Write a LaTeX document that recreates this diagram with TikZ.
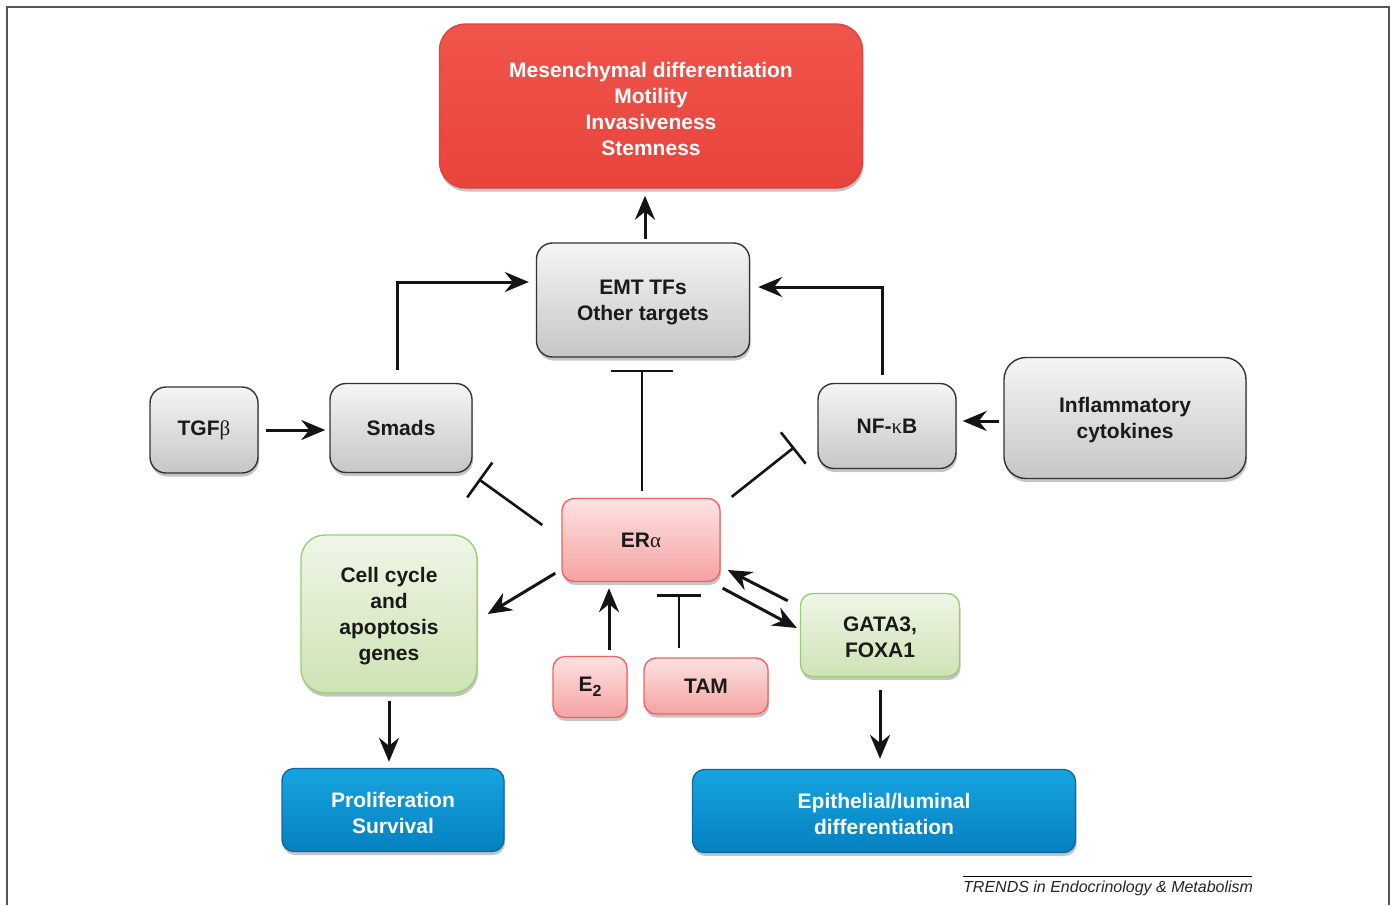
\documentclass[tikz,border=0pt]{standalone}
\usepackage{fontspec}
\setmainfont{Liberation Sans}
\newfontfamily\gkf{Liberation Serif}
\newcommand\gk[1]{{\gkf\mdseries #1}}
\newcommand\dn[2]{\raisebox{-2.5pt}[\height][\depth]{\parbox{#1}{\centering #2}}}
\usetikzlibrary{arrows.meta,shadows,calc}
\definecolor{frame}{HTML}{555555}
\definecolor{txt}{HTML}{1A1A1A}
\definecolor{grayT}{HTML}{F5F5F5}
\definecolor{grayB}{HTML}{C6C6C6}
\definecolor{grayD}{HTML}{333333}
\definecolor{redT}{HTML}{F0544B}
\definecolor{redB}{HTML}{E8443C}
\definecolor{redD}{HTML}{D8463F}
\definecolor{pinkT}{HTML}{FDE2E2}
\definecolor{pinkB}{HTML}{F5A2A2}
\definecolor{pinkD}{HTML}{EE6666}
\definecolor{greenT}{HTML}{EFF6E7}
\definecolor{greenB}{HTML}{CEE3B4}
\definecolor{greenD}{HTML}{9ACD78}
\definecolor{blueT}{HTML}{17A4E0}
\definecolor{blueB}{HTML}{0580C0}
\definecolor{blueD}{HTML}{0B6CA3}
\begin{document}
\begin{tikzpicture}[x=1pt,y=-1pt,
  box/.style={rounded corners=16pt, line width=1.4pt, align=center,
    font=\fontsize{21}{26}\selectfont\bfseries, inner sep=0pt,
    drop shadow={opacity=0.45, shadow xshift=1pt, shadow yshift=-3.5pt}},
  graybox/.style={box, draw=grayD, top color=grayT, bottom color=grayB, text=txt},
  redbox/.style={box, draw=redD, top color=redT, bottom color=redB, text=white, rounded corners=26pt},
  pinkbox/.style={box, draw=pinkD, top color=pinkT, bottom color=pinkB, text=txt, rounded corners=12pt},
  greenbox/.style={box, draw=greenD, top color=greenT, bottom color=greenB, text=txt},
  bluebox/.style={box, draw=blueD, top color=blueT, bottom color=blueB, text=white, rounded corners=12pt},
  arr/.style={line width=3pt, draw=black!92, -{Stealth[length=24pt,width=20pt,inset=8pt]}},
  inh/.style={line width=2.6pt, draw=black!92, -{Bar[width=#1,line width=2.6pt]}},
]
\useasboundingbox (0,0) rectangle (1391,905);
\fill[white] (0,0) rectangle (1391,905);
\draw[line width=1.5pt, frame] (7,905) -- (7,7) -- (1389,7) -- (1389,905);

% nodes
\node[redbox, minimum width=423pt, minimum height=164pt] (red) at (651,106)
  {\dn{400pt}{Mesenchymal differentiation\\Motility\\Invasiveness\\Stemness}};
\node[graybox, minimum width=213pt, minimum height=114pt] (emt) at (643,300)
  {\dn{200pt}{EMT TFs\\Other targets}};
\node[graybox, minimum width=108pt, minimum height=86pt] (tgfb) at (204,430)
  {TGF\gk{β}};
\node[graybox, minimum width=142pt, minimum height=89pt] (smads) at (401,428)
  {Smads};
\node[graybox, minimum width=138pt, minimum height=85pt] (nfkb) at (887,426)
  {NF-\gk{κ}B};
\node[graybox, minimum width=242pt, minimum height=121pt, rounded corners=22pt] (infl) at (1125,418)
  {\dn{230pt}{Inflammatory\\cytokines}};
\node[pinkbox, minimum width=158pt, minimum height=83pt] (era) at (641,540)
  {ER\gk{α}};
\node[greenbox, minimum width=176pt, minimum height=158pt, rounded corners=24pt] (cell) at (389,614)
  {\dn{170pt}{Cell cycle\\and\\apoptosis\\genes}};
\node[pinkbox, minimum width=74pt, minimum height=61pt] (e2) at (590,687)
  {E\raisebox{-5pt}{\fontsize{16}{16}\selectfont 2}};
\node[pinkbox, minimum width=124pt, minimum height=56pt] (tam) at (706,686)
  {TAM};
\node[greenbox, minimum width=159pt, minimum height=83pt, rounded corners=12pt] (gata) at (880,635)
  {\dn{150pt}{GATA3,\\FOXA1}};
\node[bluebox, minimum width=222pt, minimum height=83pt] (prolif) at (393,810)
  {\dn{210pt}{Proliferation\\Survival}};
\node[bluebox, minimum width=383pt, minimum height=83pt] (epi) at (884,811)
  {\dn{370pt}{Epithelial/luminal\\differentiation}};

% connectors
\draw[arr] ($(emt.north)+(2,-3)$) -- ($(red.south)+(-6,7)$);
\draw[arr] ($(smads.north)+(-4,-13)$) |- ($(emt.west)+(-7,-18)$);
\draw[arr] ($(nfkb.north)+(-5,-8)$) |- ($(emt.east)+(8,-13)$);
\draw[arr] ($(tgfb.east)+(7,0)$) -- ($(smads.west)+(-4,2)$);
\draw[arr] ($(infl.west)+(-4,3)$) -- ($(nfkb.east)+(6,-5)$);
\draw[inh=62pt] ($(era.north)+(1,-7)$) -- ($(emt.south)+(-1,12)$);
\draw[inh=43pt] ($(era.west)+(-19,-15)$) -- ($(smads.south east)+(6,6)$);
\draw[inh=40pt] ($(era.north east)+(11,-1)$) -- ($(nfkb.south west)+(-23,-22)$);
\draw[arr] ($(era.south west)+(-6,-9)$) -- ($(cell.east)+(10,0)$);
\draw[arr] ($(e2.north)+(19,-6)$) -- ($(era.south)+(-32,6)$);
\draw[inh=44pt] ($(tam.north)+(-27,-9)$) -- ($(era.south)+(38,12)$);
\draw[arr] ($(era.south east)+(2,6)$) -- ($(gata.west)+(-3,-7)$);
\draw[arr] ($(gata.north west)+(-12,8)$) -- ($(era.east)+(7,30)$);
\draw[arr] ($(cell.south)+(0,7)$) -- ($(prolif.north)+(-4,-6)$);
\draw[arr] ($(gata.south)+(0,13)$) -- ($(epi.north)+(-4,-10)$);

% footer
\draw[line width=0.8pt] (963,876) -- (1252,876);
\node[anchor=base west, inner sep=0pt, font=\fontsize{16}{18}\selectfont\itshape, text=black!85] (foot) at (963,892)
  {TRENDS in Endocrinology \& Metabolism};
\end{tikzpicture}
\end{document}
